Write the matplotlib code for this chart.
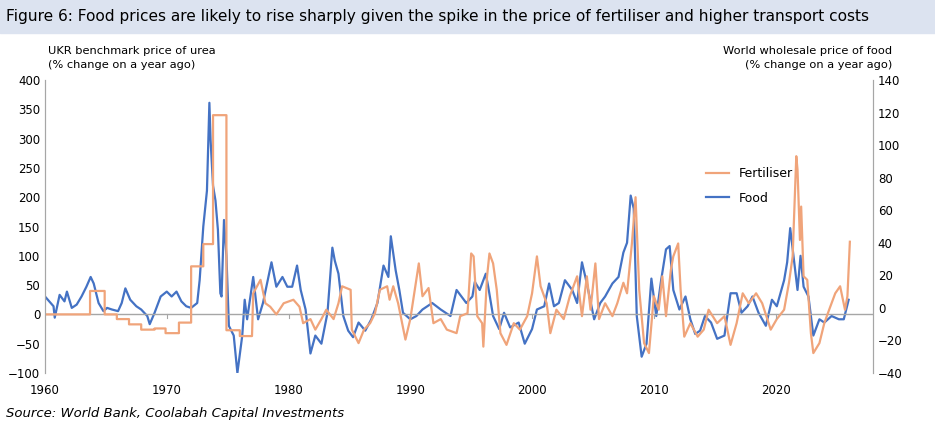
import matplotlib.pyplot as plt

# food: world wholesale price of food, % y/y (right axis)
food_years = [1960.0, 1960.7, 1960.8, 1961.2, 1961.6, 1961.8, 1962.2, 1962.6, 1963.0, 1963.4,
              1963.75, 1964.0, 1964.4, 1964.8, 1965.1, 1965.5, 1966.0, 1966.3, 1966.6, 1967.0,
              1967.5, 1967.9, 1968.4, 1968.6, 1969.0, 1969.5, 1970.0, 1970.4, 1970.8, 1971.2,
              1971.6, 1972.0, 1972.5, 1972.7, 1973.0, 1973.3, 1973.5, 1973.6, 1973.8, 1974.0,
              1974.2, 1974.4, 1974.5, 1974.7, 1974.9, 1975.1, 1975.5, 1975.8, 1976.2, 1976.4,
              1976.6, 1977.1, 1977.5, 1977.9, 1978.4, 1978.6, 1979.0, 1979.5, 1979.9, 1980.3,
              1980.7, 1981.0, 1981.4, 1981.8, 1982.2, 1982.7, 1983.2, 1983.6, 1983.8, 1984.1,
              1984.5, 1984.9, 1985.3, 1985.75, 1986.3, 1986.8, 1987.3, 1987.8, 1988.2, 1988.4,
              1988.8, 1989.1, 1989.4, 1990.0, 1990.5, 1991.0, 1991.8, 1992.5, 1993.3, 1993.8,
              1994.2, 1994.6, 1995.1, 1995.3, 1995.7, 1996.2, 1996.4, 1996.8, 1997.3, 1997.7,
              1998.2, 1998.9, 1999.4, 2000.0, 2000.4, 2001.0, 2001.4, 2001.8, 2002.2, 2002.7,
              2003.3, 2003.7, 2004.1, 2004.5, 2005.1, 2005.6, 2006.0, 2006.6, 2007.1, 2007.5,
              2007.8, 2008.1, 2008.35, 2008.6, 2009.0, 2009.4, 2009.8, 2010.2, 2010.6, 2011.0,
              2011.3, 2011.6, 2012.1, 2012.6, 2013.0, 2013.4, 2013.8, 2014.2, 2014.7, 2015.2,
              2015.8, 2016.3, 2016.8, 2017.2, 2017.7, 2018.1, 2018.6, 2019.2, 2019.7, 2020.1,
              2020.7, 2020.95, 2021.2, 2021.5, 2021.8, 2022.05, 2022.3, 2022.7, 2023.1, 2023.6,
              2024.0, 2024.6, 2025.2, 2025.6, 2026.0]
food = [7, 1, -6, 8, 4, 10, 0, 2, 7, 13,
        19, 15, 3, -2, 0, -1, -2, 3, 12, 5,
        1, -1, -5, -10, -3, 7, 10, 7, 10, 4,
        1, 0, 3, 17, 50, 72, 126, 103, 75, 66,
        48, 9, 7, 54, 32, -11, -17, -40, -17, 5,
        -7, 19, -7, 3, 21, 28, 13, 19, 13, 13,
        26, 11, -1, -28, -17, -22, -3, 37, 29, 21,
        -5, -14, -18, -9, -14, -7, 3, 26, 19, 44,
        23, 11, -3, -7, -5, -1, 3, -1, -5, 11,
        7, 3, 7, 16, 11, 21, 13, -5, -13, -3,
        -12, -9, -22, -13, -1, 1, 15, 1, 3, 17,
        11, 3, 28, 15, -7, 3, 7, 15, 19, 34,
        40, 69, 61, -5, -30, -22, 18, -5, 17, 36,
        38, 11, -1, 7, -7, -16, -14, -5, -9, -19,
        -17, 9, 9, -3, 1, 7, -3, -11, 5, 1,
        17, 28, 49, 30, 11, 32, 13, 7, -17, -7,
        -9, -5, -7, -7, 5]

# fertiliser: UKR benchmark price of urea, % y/y (left axis)
fert_years = [1960.0, 1963.7, 1963.7, 1964.9, 1964.9, 1965.9, 1965.9, 1966.9, 1966.9, 1967.9,
              1967.9, 1969.0, 1969.0, 1969.9, 1969.9, 1971.0, 1971.0, 1972.0, 1972.0, 1973.0,
              1973.0, 1973.8, 1973.8, 1974.9, 1974.9, 1976.0, 1976.0, 1977.0, 1977.1, 1977.7,
              1978.1, 1978.5, 1979.0, 1979.6, 1980.4, 1980.9, 1981.2, 1981.8, 1982.2, 1982.7,
              1983.1, 1983.7, 1984.1, 1984.4, 1985.1, 1985.2, 1985.75, 1986.2, 1986.7, 1987.1,
              1987.5, 1988.1, 1988.3, 1988.6, 1989.0, 1989.6, 1990.0, 1990.7, 1991.0, 1991.5,
              1991.9, 1992.5, 1993.0, 1993.8, 1994.1, 1994.7, 1995.0, 1995.2, 1995.5, 1995.9,
              1996.0, 1996.3, 1996.5, 1996.8, 1997.1, 1997.4, 1997.9, 1998.5, 1999.0, 1999.6,
              2000.0, 2000.4, 2000.7, 2001.2, 2001.5, 2002.0, 2002.6, 2003.1, 2003.7, 2004.1,
              2004.5, 2004.8, 2005.2, 2005.5, 2006.0, 2006.6, 2007.0, 2007.5, 2007.8, 2008.2,
              2008.5, 2008.8, 2009.2, 2009.6, 2010.0, 2010.4, 2010.7, 2011.0, 2011.4, 2011.6,
              2012.0, 2012.2, 2012.5, 2013.0, 2013.6, 2014.1, 2014.5, 2015.2, 2015.8, 2016.3,
              2016.8, 2017.3, 2017.8, 2018.4, 2018.9, 2019.6, 2020.1, 2020.7, 2021.1, 2021.4,
              2021.7, 2021.8, 2022.0, 2022.1, 2022.3, 2022.6, 2022.9, 2023.1, 2023.6, 2024.0,
              2024.4, 2024.9, 2025.3, 2025.7, 2025.9, 2026.1]
fert = [0, 0, 40, 40, 0, 0, -8, -8, -17, -17,
        -26, -26, -24, -24, -32, -32, -14, -14, 82, 82,
        120, 120, 340, 340, -27, -27, -37, -37, 36, 59,
        19, 13, 0, 19, 25, 13, -15, -8, -26, -8,
        8, -8, 19, 48, 42, -26, -49, -26, -15, 2,
        42, 48, 25, 48, 19, -43, -8, 87, 31, 45,
        -15, -8, -26, -32, -3, 2, 104, 99, -3, -15,
        -55, 64, 104, 87, 42, -32, -52, -15, -26, -3,
        36, 99, 48, 19, -32, 8, -8, 31, 65, -3,
        65, 8, 87, -8, 19, -3, 19, 54, 36, 121,
        200, 42, -49, -66, 31, 8, 65, -3, 76, 99,
        121, 42, -38, -15, -38, -26, 8, -15, -3, -52,
        -15, 36, 19, 36, 19, -26, -8, 8, 54, 99,
        270, 247, 127, 184, 65, 59, -32, -66, -49, -15,
        8, 36, 48, 8, 31, 124]

left_ticks = [-100, -50, 0, 50, 100, 150, 200, 250, 300, 350, 400]
right_ticks = [-40, -20, 0, 20, 40, 60, 80, 100, 120, 140]
year_ticks = [1960, 1970, 1980, 1990, 2000, 2010, 2020]

FERT_C = "#F0A47A"
FOOD_C = "#4472C4"
GREY = "#A6A6A6"

fig = plt.figure(figsize=(9.35, 4.34), dpi=100)
fig.patches.append(plt.Rectangle((0, 0.925), 1, 0.075, transform=fig.transFigure,
                                 color="#DCE3F0", zorder=0))
fig.text(0.006, 0.962, "Figure 6: Food prices are likely to rise sharply given the spike in the price of fertiliser and higher transport costs",
         fontsize=11.1, va="center", ha="left")

ax = fig.add_axes([45 / 935, 1 - 373 / 434, 828 / 935, 293 / 434])
ax2 = ax.twinx()

ax.plot(fert_years, fert, color=FERT_C, lw=1.6, label="Fertiliser")
ax2.plot(food_years, food, color=FOOD_C, lw=1.6, label="Food")

ax.set_xlim(1960, 2028)
ax.set_ylim(-100, 400)
ax2.set_ylim(-40, 140)
ax.set_yticks(left_ticks)
ax2.set_yticks(right_ticks)
ax.set_xticks(year_ticks)
ax.tick_params(axis="x", length=0, pad=8, labelsize=8.5)
ax.tick_params(axis="y", length=0, labelsize=8.5)
ax2.tick_params(axis="y", length=0, labelsize=8.5)
ax.axhline(0, color=GREY, lw=1, zorder=0)
for yr in year_ticks[1:]:
    ax.plot([yr, yr], [0, -6], color=GREY, lw=0.8)
for a in (ax, ax2):
    a.spines["top"].set_visible(False)
    a.spines["bottom"].set_visible(False)
    a.spines["left"].set_color(GREY)
    a.spines["right"].set_color(GREY)
ax.set_zorder(ax2.get_zorder() + 1)
ax.patch.set_visible(False)

fig.text(48 / 935, 1 - 58 / 434, "UKR benchmark price of urea\n(% change on a year ago)",
         fontsize=8.2, va="center", ha="left", linespacing=1.4)
fig.text(892 / 935, 1 - 58 / 434, "World wholesale price of food\n(% change on a year ago)",
         fontsize=8.2, va="center", ha="right", linespacing=1.4)

h1, l1 = ax.get_legend_handles_labels()
h2, l2 = ax2.get_legend_handles_labels()
ax.legend(h1 + h2, l1 + l2, frameon=False, fontsize=9, loc="upper left",
          bbox_to_anchor=(0.785, 0.74), handlelength=1.8, labelspacing=0.9)

fig.text(0.006, 1 - 413 / 434, "Source: World Bank, Coolabah Capital Investments",
         fontsize=9.5, style="italic", va="center", ha="left")

fig.savefig("out.png", dpi=100)
